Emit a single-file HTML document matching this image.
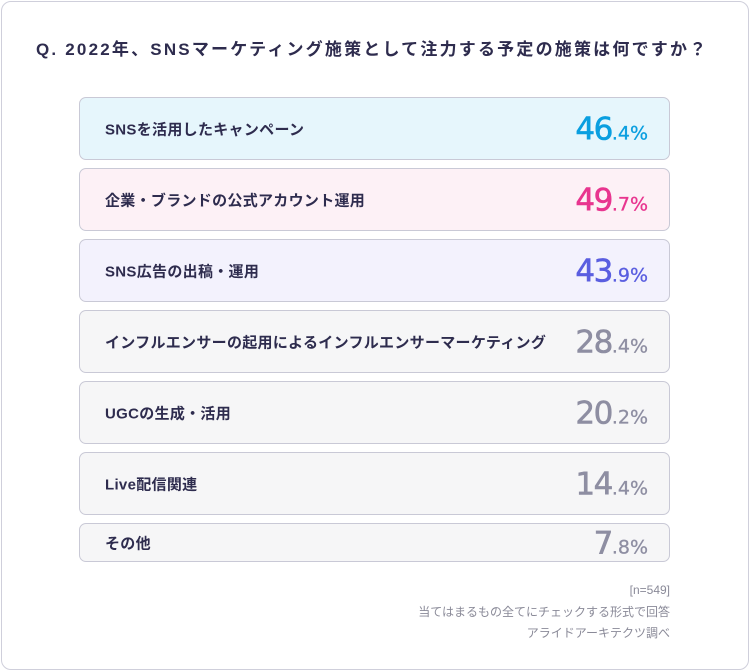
<!DOCTYPE html>
<html><head><meta charset="utf-8"><style>
*{margin:0;padding:0;box-sizing:border-box}
body{width:750px;height:672px;background:#fff;font-family:"Liberation Sans","Noto Sans CJK JP",sans-serif;position:relative;overflow:hidden}
.card{position:absolute;left:1px;top:1px;width:748px;height:669px;border:1px solid #cfcfdb;border-radius:10px}
.title{position:absolute;left:36px;top:35px;font-size:17px;letter-spacing:2.2px;font-weight:bold;color:#2e2c4e;white-space:nowrap}
.row{position:absolute;left:79px;width:591px;border:1px solid #c9c9d6;border-radius:7px;background:#f6f6f7}
.lab{position:absolute;left:25px;top:50%;transform:translateY(-50%);font-size:15px;letter-spacing:0.3px;font-weight:bold;color:#2e2c4e;white-space:nowrap}
.num{position:absolute;right:21px;top:50%;transform:translateY(-48%);color:#8e8ea2;white-space:nowrap;font-family:"DejaVu Sans","Liberation Sans",sans-serif}
.num b{font-size:31px;font-weight:normal;letter-spacing:-1.5px;-webkit-text-stroke:0.6px currentColor}
.num i{font-style:normal;font-size:19px;-webkit-text-stroke:0.3px currentColor}
.note{position:absolute;right:80px;font-size:12px;color:#8a8a98;text-align:right;white-space:nowrap}
</style></head><body>
<div class="card"></div>
<div class="title">Q. 2022年、SNSマーケティング施策として注力する予定の施策は何ですか？</div>
<div class="row" style="top:97px;height:63px;background:#e6f6fc"><span class="lab">SNSを活用したキャンペーン</span><span class="num" style="color:#0a9fe0"><b>46</b><i>.4%</i></span></div>
<div class="row" style="top:168px;height:63px;background:#fdf1f6"><span class="lab">企業・ブランドの公式アカウント運用</span><span class="num" style="color:#e8358f"><b>49</b><i>.7%</i></span></div>
<div class="row" style="top:239px;height:63px;background:#f3f2fd"><span class="lab">SNS広告の出稿・運用</span><span class="num" style="color:#5a5ee0"><b>43</b><i>.9%</i></span></div>
<div class="row" style="top:310px;height:63px"><span class="lab">インフルエンサーの起用によるインフルエンサーマーケティング</span><span class="num"><b>28</b><i>.4%</i></span></div>
<div class="row" style="top:381px;height:63px"><span class="lab">UGCの生成・活用</span><span class="num"><b>20</b><i>.2%</i></span></div>
<div class="row" style="top:452px;height:63px"><span class="lab">Live配信関連</span><span class="num"><b>14</b><i>.4%</i></span></div>
<div class="row" style="top:523px;height:39px"><span class="lab">その他</span><span class="num"><b>7</b><i>.8%</i></span></div>
<div class="note" style="top:583px">[n=549]</div>
<div class="note" style="top:603px">当てはまるもの全てにチェックする形式で回答</div>
<div class="note" style="top:624px">アライドアーキテクツ調べ</div>
</body></html>
